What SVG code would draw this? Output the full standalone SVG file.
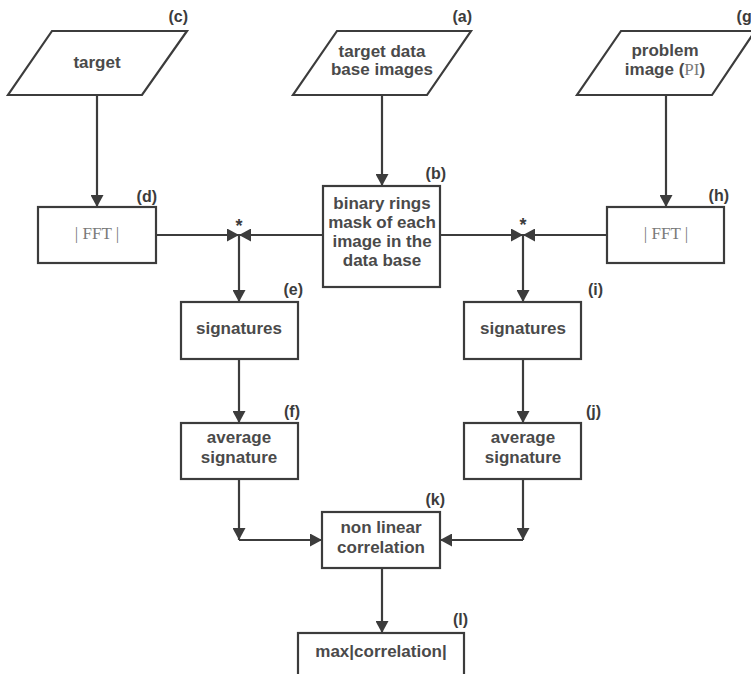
<svg xmlns="http://www.w3.org/2000/svg" width="751" height="674" viewBox="0 0 751 674">
  <style>
    .shape { fill: #ffffff; stroke: #3c3c3c; stroke-width: 2.2; }
    .txt { font-family: "Liberation Sans", Arial, sans-serif; font-weight: bold; font-size: 17px; fill: #4a4a4a; text-anchor: middle; }
    .ser { font-family: "Liberation Serif", "Times New Roman", serif; font-weight: normal; fill: #7a7a7a; }
    .lbl { font-family: "Liberation Sans", Arial, sans-serif; font-weight: bold; font-size: 16px; fill: #3c3c3c; text-anchor: end; }
    .star { font-family: "Liberation Sans", Arial, sans-serif; font-weight: bold; font-size: 18px; fill: #3c3c3c; text-anchor: middle; }
    .wire { fill: none; stroke: #3c3c3c; stroke-width: 2.2; }
  </style>
  <defs>
    <marker id="arrow" markerUnits="userSpaceOnUse" markerWidth="13" markerHeight="13" refX="12" refY="6.5" orient="auto">
      <path d="M0,0 L12,6.5 L0,13 Z" fill="#3c3c3c"/>
    </marker>
  </defs>
  <rect width="751" height="674" fill="#ffffff"/>

  <!-- input: target -->
  <g id="node-c">
    <polygon class="shape" points="52,31 187,31 142,95 8,95"/>
    <text class="txt" x="97" y="68">target</text>
    <text class="lbl" x="188" y="22">(c)</text>
  </g>

  <!-- input: target data base images -->
  <g id="node-a">
    <polygon class="shape" points="337,31 471,31 427,95 293,95"/>
    <text class="txt" x="382" y="57">target data</text>
    <text class="txt" x="382" y="75">base images</text>
    <text class="lbl" x="472" y="22">(a)</text>
  </g>

  <!-- input: problem image -->
  <g id="node-g">
    <polygon class="shape" points="621,31 755,31 712,95 577,95"/>
    <text class="txt" x="665" y="56">problem</text>
    <text class="txt" x="665" y="75">image (<tspan class="ser">PI</tspan>)</text>
    <text class="lbl" x="757" y="22">(g)</text>
  </g>

  <!-- |FFT| of target -->
  <g id="node-d">
    <rect class="shape" x="38" y="207" width="118" height="56"/>
    <text class="txt ser" x="97" y="239">| FFT |</text>
    <text class="lbl" x="157" y="202">(d)</text>
  </g>

  <!-- binary rings mask -->
  <g id="node-b">
    <rect class="shape" x="323" y="186" width="117" height="101"/>
    <text class="txt" x="382" y="209">binary rings</text>
    <text class="txt" x="382" y="228">mask of each</text>
    <text class="txt" x="382" y="247">image in the</text>
    <text class="txt" x="382" y="266">data base</text>
    <text class="lbl" x="446" y="179">(b)</text>
  </g>

  <!-- |FFT| of problem image -->
  <g id="node-h">
    <rect class="shape" x="607" y="207" width="117" height="56"/>
    <text class="txt ser" x="666" y="239">| FFT |</text>
    <text class="lbl" x="729" y="201">(h)</text>
  </g>

  <!-- product junctions -->
  <g id="junction-left">
    <text class="star" x="239" y="232">*</text>
  </g>
  <g id="junction-right">
    <text class="star" x="523" y="231">*</text>
  </g>

  <g id="node-e">
    <rect class="shape" x="181" y="302" width="117" height="57"/>
    <text class="txt" x="239" y="334">signatures</text>
    <text class="lbl" x="303" y="295">(e)</text>
  </g>

  <g id="node-i">
    <rect class="shape" x="464" y="302" width="117" height="57"/>
    <text class="txt" x="523" y="334">signatures</text>
    <text class="lbl" x="603" y="295">(i)</text>
  </g>

  <g id="node-f">
    <rect class="shape" x="181" y="423" width="117" height="56"/>
    <text class="txt" x="239" y="443">average</text>
    <text class="txt" x="239" y="463">signature</text>
    <text class="lbl" x="300" y="417">(f)</text>
  </g>

  <g id="node-j">
    <rect class="shape" x="464" y="423" width="117" height="56"/>
    <text class="txt" x="523" y="443">average</text>
    <text class="txt" x="523" y="463">signature</text>
    <text class="lbl" x="601" y="417">(j)</text>
  </g>

  <g id="node-k">
    <rect class="shape" x="322" y="512" width="118" height="56"/>
    <text class="txt" x="381" y="533">non linear</text>
    <text class="txt" x="381" y="553">correlation</text>
    <text class="lbl" x="445" y="505">(k)</text>
  </g>

  <g id="node-l">
    <rect class="shape" x="298" y="633" width="166" height="60"/>
    <text class="txt" x="381" y="657">max|correlation|</text>
    <text class="lbl" x="468" y="625">(l)</text>
  </g>

  <!-- connectors -->
  <g id="connectors">
    <path class="wire" d="M97,95 V207" marker-end="url(#arrow)"/>
    <path class="wire" d="M382,95 V186" marker-end="url(#arrow)"/>
    <path class="wire" d="M666,95 V207" marker-end="url(#arrow)"/>
    <path class="wire" d="M156,235 H239" marker-end="url(#arrow)"/>
    <path class="wire" d="M323,235 H239" marker-end="url(#arrow)"/>
    <path class="wire" d="M239,235 V302" marker-end="url(#arrow)"/>
    <path class="wire" d="M440,235 H523" marker-end="url(#arrow)"/>
    <path class="wire" d="M607,235 H523" marker-end="url(#arrow)"/>
    <path class="wire" d="M523,235 V302" marker-end="url(#arrow)"/>
    <path class="wire" d="M239,359 V423" marker-end="url(#arrow)"/>
    <path class="wire" d="M523,359 V423" marker-end="url(#arrow)"/>
    <path class="wire" d="M239,479 V540" marker-end="url(#arrow)"/>
    <path class="wire" d="M239,540 H322" marker-end="url(#arrow)"/>
    <path class="wire" d="M523,479 V540" marker-end="url(#arrow)"/>
    <path class="wire" d="M523,540 H440" marker-end="url(#arrow)"/>
    <path class="wire" d="M382,568 V633" marker-end="url(#arrow)"/>
  </g>
</svg>
